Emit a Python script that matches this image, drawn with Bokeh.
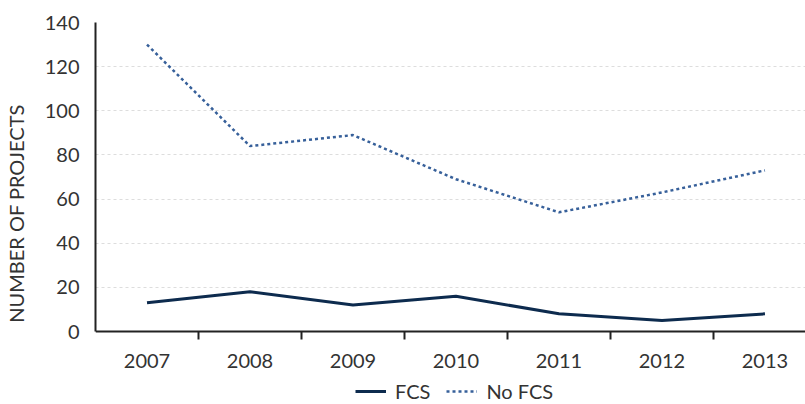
from bokeh.plotting import figure
from bokeh.models import Range1d, FixedTicker, Legend, LegendItem
from bokeh.embed import file_html
from bokeh.resources import INLINE

years = ["2007", "2008", "2009", "2010", "2011", "2012", "2013"]
fcs = [13, 18, 12, 16, 8, 5, 8]
no_fcs = [130, 84, 89, 69, 54, 63, 73]
y_ticks = [0, 20, 40, 60, 80, 100, 120, 140]

FONT = "Lato"
FS = "20px"
xs = [i + 0.5 for i in range(len(years))]

p = figure(frame_width=712, frame_height=382, output_backend="svg", toolbar_location=None,
           x_range=Range1d(0, 6.913), y_range=Range1d(-33.07, 140),
           min_border_left=93, min_border_top=22, min_border_right=0, min_border_bottom=0)
p.outline_line_color = None
p.background_fill_color = "white"

p.xgrid.grid_line_color = None
p.ygrid.grid_line_color = "#dddddd"
p.ygrid.grid_line_dash = "3 3"
p.ygrid.grid_line_width = 1

p.xaxis.fixed_location = 0
p.xaxis.ticker = FixedTicker(ticks=xs, minor_ticks=list(range(1, len(years))))
p.xaxis.major_label_overrides = {x: y for x, y in zip(xs, years)}
p.xaxis.major_tick_line_color = None
p.xaxis.major_tick_out = 0
p.xaxis.minor_tick_out = 8
p.xaxis.minor_tick_in = 0
p.xaxis.minor_tick_line_color = "#222222"
p.xaxis.minor_tick_line_width = 2
p.xaxis.axis_line_color = "#222222"
p.xaxis.axis_line_width = 2
p.xaxis.major_label_standoff = 14

p.yaxis.ticker = FixedTicker(ticks=y_ticks)
p.yaxis.bounds = (0, 140)
p.yaxis.major_tick_line_color = None
p.yaxis.minor_tick_line_color = None
p.yaxis.axis_line_color = "#222222"
p.yaxis.axis_line_width = 2
p.yaxis.major_label_standoff = 10
p.yaxis.axis_label = "NUMBER OF PROJECTS"
p.yaxis.axis_label_text_font_style = "normal"
p.yaxis.axis_label_text_font = FONT
p.yaxis.axis_label_text_font_size = FS
p.yaxis.axis_label_text_color = "#333333"
p.yaxis.axis_label_standoff = 14

for ax in (p.xaxis, p.yaxis):
    ax.major_label_text_font = FONT
    ax.major_label_text_font_size = FS
    ax.major_label_text_color = "#333333"

r1 = p.line(xs, fcs, line_color="#0d2b4e", line_width=3)
r2 = p.line(xs, no_fcs, line_color="#37609a", line_width=2.5, line_dash="3 3")

legend = Legend(items=[LegendItem(label="FCS", renderers=[r1]),
                       LegendItem(label="No FCS", renderers=[r2])],
                orientation="horizontal", location=(260, 1),
                label_text_font=FONT, label_text_font_size=FS, label_text_color="#333333",
                label_standoff=9, glyph_width=31, glyph_height=20, label_height=20,
                spacing=16, padding=0, margin=0,
                border_line_color=None, background_fill_alpha=0)
p.add_layout(legend)

open("out.html", "w").write(file_html(p, INLINE))
